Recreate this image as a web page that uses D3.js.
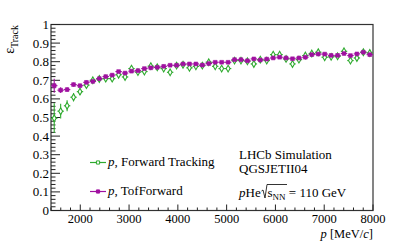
<!DOCTYPE html>
<html>
<head>
<meta charset="utf-8">
<script src="https://cdn.jsdelivr.net/npm/d3@7"></script>
<style>
  body { margin: 0; background: #fff; }
  svg text { font-family: "Liberation Serif", "Times New Roman", Times, serif; fill: #000; }
</style>
</head>
<body>
<svg id="chart" width="393" height="243"></svg>
<script>
// momentum bin centres [MeV/c]
const pBins = [1466,1598,1730,1862,1994,2126,2258,2390,2522,2654,2786,2918,3050,3182,3314,3446,3578,3710,3842,3974,
  4106,4238,4370,4502,4634,4766,4898,5030,5162,5294,5426,5558,5690,5822,5954,6086,6218,6350,6482,6614,
  6746,6878,7010,7142,7274,7406,7538,7670,7802,7934]
const binHalf = 66

const forwardEff = [0.496,0.534,0.563,0.609,0.639,0.674,0.700,0.707,0.709,0.709,0.730,0.718,0.763,0.744,0.747,0.776,0.770,0.763,0.743,0.779,
  0.784,0.767,0.775,0.779,0.797,0.775,0.763,0.763,0.806,0.806,0.802,0.788,0.811,0.806,0.838,0.838,0.815,0.788,0.811,0.833,
  0.844,0.851,0.824,0.826,0.829,0.856,0.806,0.820,0.851,0.847]
const forwardErr = [0.08,0.04,0.03,0.022,0.018,0.015,0.013,0.012,0.011,0.011,0.01,0.01,0.01,0.01,0.009,0.009,0.009,0.009,0.009,0.009,
  0.008,0.008,0.008,0.008,0.008,0.008,0.008,0.008,0.008,0.008,0.008,0.008,0.008,0.008,0.008,0.008,0.008,0.008,0.008,0.008,
  0.008,0.008,0.008,0.008,0.008,0.008,0.008,0.008,0.008,0.008]

const tofEff = [0.671,0.647,0.650,0.677,0.671,0.689,0.694,0.709,0.720,0.728,0.747,0.739,0.749,0.752,0.763,0.767,0.770,0.775,0.781,0.781,
  0.788,0.788,0.788,0.782,0.790,0.797,0.797,0.797,0.811,0.811,0.805,0.815,0.809,0.814,0.820,0.824,0.820,0.816,0.820,0.824,
  0.838,0.841,0.841,0.834,0.834,0.844,0.833,0.842,0.851,0.838]
const tofErr = [0.038,0.015,0.012,0.011,0.01,0.01,0.009,0.009,0.009,0.008,0.008,0.008,0.008,0.008,0.007,0.007,0.007,0.007,0.007,0.007,
  0.007,0.007,0.007,0.007,0.007,0.007,0.007,0.007,0.007,0.007,0.007,0.007,0.007,0.007,0.007,0.007,0.007,0.007,0.007,0.007,
  0.007,0.007,0.007,0.007,0.007,0.007,0.007,0.007,0.007,0.007]

const yTicks = [0,0.1,0.2,0.3,0.4,0.5,0.6,0.7,0.8,0.9,1]
const xTicks = [2000,3000,4000,5000,6000,7000,8000]

const green = "#2eaa2e"
const magenta = "#a010a0"
const serif = "'Liberation Serif', 'Times New Roman', serif"

const svg = d3.select("#chart")
const x = d3.scaleLinear().domain([1400, 8000]).range([51, 373])
const y = d3.scaleLinear().domain([0, 1]).range([210.5, 24.5])

// frame
svg.append("rect")
    .attr("x", x(1400)).attr("y", y(1))
    .attr("width", x(8000) - x(1400)).attr("height", y(0) - y(1))
    .attr("fill", "none").attr("stroke", "#333").attr("stroke-width", 1.2)

// y axis ticks
const yMinor = d3.range(0, 1.001, 0.02)
svg.append("g").selectAll("line").data(yMinor).join("line")
    .attr("x1", x(1400)).attr("x2", (d, i) => x(1400) + (i % 5 === 0 ? 9 : 4.5))
    .attr("y1", d => y(d)).attr("y2", d => y(d))
    .attr("stroke", "#222").attr("stroke-width", 1)
svg.append("g").selectAll("text").data(yTicks).join("text")
    .attr("x", 49).attr("y", d => y(d) + 4.5)
    .attr("font-family", serif)
    .attr("text-anchor", "end").attr("font-size", 13)
    .text(d => d === 0 || d === 1 ? d : d.toFixed(1))

// x axis ticks
const xMinor = d3.range(1400, 8001, 200)
svg.append("g").selectAll("line").data(xMinor).join("line")
    .attr("x1", d => x(d)).attr("x2", d => x(d))
    .attr("y1", y(0)).attr("y2", d => y(0) - (d % 1000 === 0 ? 6 : 3))
    .attr("stroke", "#222").attr("stroke-width", 1)
svg.append("g").selectAll("text").data(xTicks).join("text")
    .attr("x", d => x(d)).attr("y", 223)
    .attr("font-family", serif)
    .attr("text-anchor", "middle").attr("font-size", 12.5)
    .text(d => d)

// axis titles
const xt = svg.append("text").attr("x", 373).attr("y", 237.5)
    .attr("font-family", serif).attr("text-anchor", "end").attr("font-size", 12.5)
xt.append("tspan").attr("font-style", "italic").text("p")
xt.append("tspan").text(" [MeV/")
xt.append("tspan").attr("font-style", "italic").text("c")
xt.append("tspan").text("]")

const yt = svg.append("text").attr("transform", "translate(14,25) rotate(-90)")
    .attr("font-family", serif).attr("text-anchor", "end").attr("font-size", 14)
yt.append("tspan").text("ε")
yt.append("tspan").attr("font-size", 10).attr("dy", 4).text("Track")

// series
const series = [
    {vals: forwardEff, errs: forwardErr, color: green, sym: d3.symbolDiamond, size: 13, open: true},
    {vals: tofEff, errs: tofErr, color: magenta, sym: d3.symbolSquare, size: 14, open: false}
]

series.forEach(s => {
    const g = svg.append("g")
    const pts = pBins.map((p, i) => ({p, v: s.vals[i], e: s.errs[i]}))
    g.selectAll("line.h").data(pts).join("line").attr("class", "h")
        .attr("x1", d => x(d.p - binHalf)).attr("x2", d => x(d.p + binHalf))
        .attr("y1", d => y(d.v)).attr("y2", d => y(d.v))
        .attr("stroke", s.color).attr("stroke-width", 1.1)
    g.selectAll("line.v").data(pts).join("line").attr("class", "v")
        .attr("x1", d => x(d.p)).attr("x2", d => x(d.p))
        .attr("y1", d => y(d.v - d.e)).attr("y2", d => y(d.v + d.e))
        .attr("stroke", s.color).attr("stroke-width", 1.1)
    g.selectAll("path").data(pts).join("path")
        .attr("d", d3.symbol(s.sym, s.size))
        .attr("transform", d => `translate(${x(d.p)},${y(d.v)})`)
        .attr("fill", s.open ? "#fff" : s.color)
        .attr("stroke", s.color).attr("stroke-width", s.open ? 1.1 : 0.6)
})

// legend
const legend = [
    {label: ", Forward Tracking", color: green, sym: d3.symbolSquare, size: 10, open: true, yy: 162.5},
    {label: ", TofForward", color: magenta, sym: d3.symbolSquare, size: 10, open: false, yy: 191.5}
]
legend.forEach(l => {
    svg.append("line").attr("x1", 90).attr("x2", 106).attr("y1", l.yy).attr("y2", l.yy)
        .attr("stroke", l.color).attr("stroke-width", 1.2)
    svg.append("path").attr("d", d3.symbol(l.sym, l.size))
        .attr("transform", `translate(98,${l.yy})`)
        .attr("fill", l.open ? "#fff" : l.color).attr("stroke", l.color)
    const t = svg.append("text").attr("x", 108).attr("y", l.yy + 3.8)
        .attr("font-family", serif).attr("font-size", 13)
    t.append("tspan").attr("font-style", "italic").text("p")
    t.append("tspan").text(l.label)
})

// annotations
svg.append("text").attr("x", 239).attr("y", 159).attr("font-family", serif).attr("font-size", 13).text("LHCb Simulation")
svg.append("text").attr("x", 239).attr("y", 173).attr("font-family", serif).attr("font-size", 13).text("QGSJETII04")
const ann = svg.append("text").attr("x", 239).attr("y", 197).attr("font-family", serif).attr("font-size", 13)
ann.append("tspan").attr("font-style", "italic").text("p")
ann.append("tspan").text("He")
// radical sign
svg.append("path")
    .attr("d", "M261.5,191 L263,190 L265,198 L267,184.5 L287,184.5")
    .attr("fill", "none").attr("stroke", "#000").attr("stroke-width", 0.8)
const sq = svg.append("text").attr("x", 267.5).attr("y", 197).attr("font-family", serif).attr("font-size", 13)
sq.append("tspan").text("s")
sq.append("tspan").attr("font-size", 9).attr("dy", 2.5).text("NN")
sq.append("tspan").attr("dy", -2.5).text(" = 110 GeV")
</script>
</body>
</html>
